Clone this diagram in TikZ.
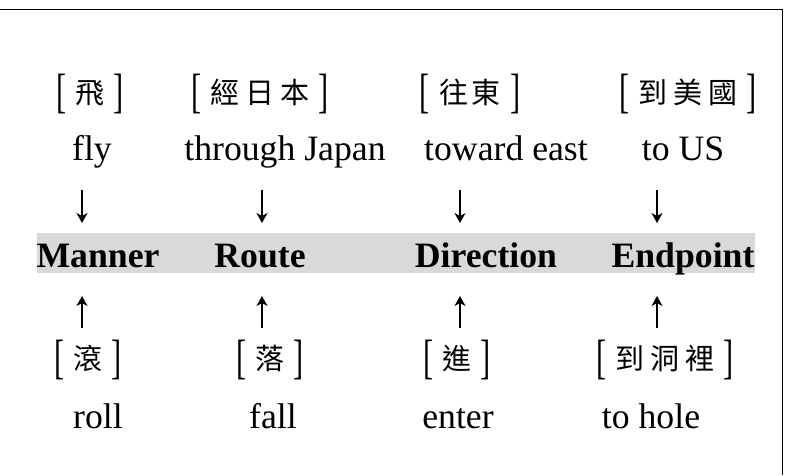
\documentclass[tikz,border=0pt]{standalone}
\usepackage{fontspec}
\setmainfont{Liberation Serif}
\newfontfamily\cjk{Noto Sans CJK TC}
\usetikzlibrary{arrows.meta}
\definecolor{bandgray}{RGB}{217,217,217}
\newcommand\lb{\raisebox{-0.12em}{\scalebox{0.85}[1.35]{[}}}
\newcommand\rb{\raisebox{-0.12em}{\scalebox{0.85}[1.35]{]}}}
\newcommand\zb[1]{\lb\hspace{9pt}{\cjk\fontsize{29}{32}\selectfont #1}\hspace{9pt}\rb}
\newcommand\zs{\hspace{6pt}}
\begin{document}
\begin{tikzpicture}[x=1pt,y=-1pt,
  en/.style={inner sep=0pt, anchor=base, font=\fontsize{35.7}{40}\selectfont},
  lab/.style={inner sep=0pt, anchor=base, font=\fontsize{35.7}{40}\selectfont\bfseries},
  zh/.style={inner sep=0pt, anchor=center, font=\fontsize{35.7}{40}\selectfont},
  arr/.style={line width=1.1pt, -{Stealth[length=10pt,width=11pt,inset=3pt]}}]
\useasboundingbox (0,0) rectangle (795,475);
\draw[line width=1.6pt] (0,9.5) -- (782.5,9.5) -- (782.5,475);
\fill[bandgray] (37,233) rectangle (755,273);
% top Chinese row
\node[zh] (z1) at (90,94) {\zb{飛}};
\node[zh] (z2) at (260,94) {\zb{經\zs 日\zs 本}};
\node[zh] (z3) at (470,94) {\zb{往\hspace{4pt}東}};
\node[zh] (z4) at (688,94) {\zb{到\zs 美\zs 國}};
% English glosses
\node[en] (e1) at (92,160) {fly};
\node[en] (e2) at (285,160) {through Japan};
\node[en] (e3) at (506,160) {toward east};
\node[en] (e4) at (683,160) {to US};
% labels
\node[lab] (m) at (98,267) {Manner};
\node[lab] (r) at (260,267) {Route};
\node[lab] (d) at (486,267) {Direction};
\node[lab] (ep) at (683,267) {Endpoint};
% bottom Chinese row
\node[zh] (b1) at (88,360) {\zb{滾}};
\node[zh] (b2) at (270,360) {\zb{落}};
\node[zh] (b3) at (457,360) {\zb{進}};
\node[zh] (b4) at (665,360) {\zb{到\zs 洞\zs 裡}};
% bottom English
\node[en] (f1) at (98,428) {roll};
\node[en] (f2) at (273,428) {fall};
\node[en] (f3) at (458,428) {enter};
\node[en] (f4) at (651,428) {to hole};
% arrows
\foreach \i/\x in {1/82,2/262,3/460,4/657}{
  \coordinate (ds\i) at (\x,190);
  \coordinate (de\i) at (\x,223);
  \coordinate (us\i) at (\x,328);
  \coordinate (ue\i) at (\x,296);
  \draw[arr] (ds\i) -- (de\i);
  \draw[arr] (us\i) -- (ue\i);
}
\end{tikzpicture}
\end{document}
